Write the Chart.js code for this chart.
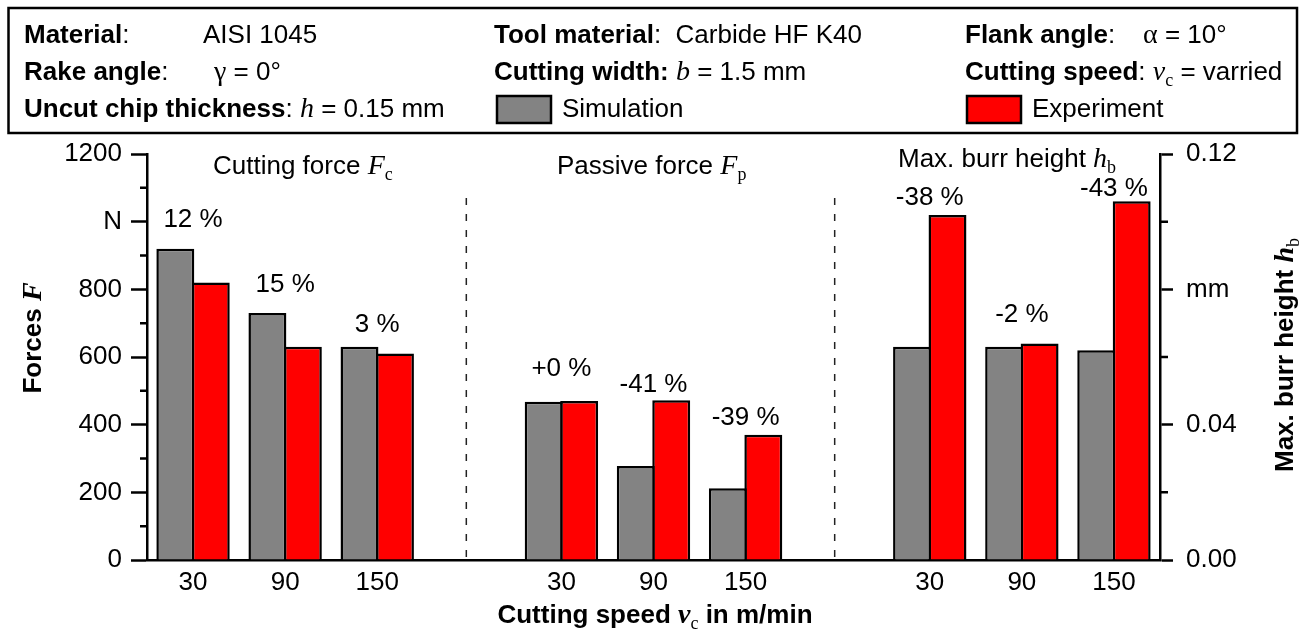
<!DOCTYPE html>
<html>
<head>
<meta charset="utf-8">
<script src="https://cdn.jsdelivr.net/npm/chart.js@4.4.1/dist/chart.umd.min.js"></script>
<style>
  html, body { margin: 0; padding: 0; background: #fff; }
  #wrap { width: 1304px; height: 634px; position: relative; }
</style>
</head>
<body>
<div id="wrap"><canvas id="c"></canvas></div>
<script>
// Cutting speed slots: three groups (Fc, Fp, hb) separated by an empty slot
const speeds = ['30', '90', '150', '', '30', '90', '150', '', '30', '90', '150'];

// Forces in N (left axis)
const simForce = [920, 730, 630, null, 468, 278, 212, null, null, null, null];
const expForce = [820, 630, 610, null, 470, 472, 370, null, null, null, null];

// Max. burr height in mm (right axis)
const simBurr = [null, null, null, null, null, null, null, null, 0.063, 0.063, 0.062];
const expBurr = [null, null, null, null, null, null, null, null, 0.102, 0.064, 0.106];

// Deviation simulation vs. experiment
const deviation = ['12 %', '15 %', '3 %', '', '+0 %', '-41 %', '-39 %', '', '-38 %', '-2 %', '-43 %'];

// Major tick labels
const forceTickLabels = ['0', '200', '400', '600', '800', 'N', '1200'];
const burrTickLabels = ['0.00', '0.04', 'mm', '0.12'];

const SANS = '"Liberation Sans", Arial, sans-serif';
const SERIF = '"Liberation Serif", "Times New Roman", serif';
const R = s => `${s}px ${SANS}`;
const B = s => `bold ${s}px ${SANS}`;
const I = s => `italic ${s}px ${SERIF}`;
const BI = s => `bold italic ${s}px ${SERIF}`;
const S = s => `${s}px ${SERIF}`;

// draw a sequence of [text, font, dy] runs on one baseline
function rich(ctx, x, y, runs, align) {
  let w = 0;
  for (const r of runs) { ctx.font = r[1]; w += ctx.measureText(r[0]).width; }
  let cx = align === 'center' ? x - w / 2 : (align === 'right' ? x - w : x);
  ctx.textAlign = 'left';
  ctx.textBaseline = 'alphabetic';
  for (const r of runs) {
    ctx.font = r[1];
    ctx.fillText(r[0], cx, y + (r[2] || 0));
    cx += ctx.measureText(r[0]).width;
  }
}

const decorations = {
  id: 'decorations',
  afterDraw(chart) {
    const ctx = chart.ctx;
    const xs = chart.scales.x, ys = chart.scales.y, y2 = chart.scales.y2;
    const area = chart.chartArea;
    ctx.save();
    ctx.fillStyle = '#000';
    ctx.strokeStyle = '#000';

    // minor ticks
    ctx.lineWidth = 2.5;
    ctx.beginPath();
    for (let v = 100; v < 1200; v += 200) {
      const p = ys.getPixelForValue(v);
      ctx.moveTo(area.left - 7, p); ctx.lineTo(area.left, p);
    }
    for (let k = 1; k < 6; k += 2) {
      const p = y2.getPixelForValue(k * 0.02);
      ctx.moveTo(area.right, p); ctx.lineTo(area.right + 8, p);
    }
    ctx.stroke();

    // dashed separators between the three panels
    ctx.lineWidth = 1.5;
    ctx.setLineDash([7, 9]);
    ctx.strokeStyle = '#222';
    ctx.beginPath();
    [3, 7].forEach(i => {
      const px = xs.getPixelForValue(i) - 3;
      ctx.moveTo(px, 198); ctx.lineTo(px, area.bottom);
    });
    ctx.stroke();
    ctx.setLineDash([]);
    ctx.strokeStyle = '#000';

    // deviation labels above each pair of bars
    const lift = [22, 21, 15, 0, 25, 8, 10, 0, 10, 21, 5];
    deviation.forEach((txt, i) => {
      if (!txt) return;
      let top = Infinity;
      chart.data.datasets.forEach((ds, d) => {
        const el = chart.getDatasetMeta(d).data[i];
        if (ds.data[i] != null && el) top = Math.min(top, el.y);
      });
      rich(ctx, xs.getPixelForValue(i), top - lift[i], [[txt, R(26)]], 'center');
    });

    // panel titles
    rich(ctx, 213, 174, [['Cutting force ', R(26)], ['F', I(28)], ['c', S(18), 6]], 'left');
    rich(ctx, 557, 174, [['Passive force ', R(26)], ['F', I(28)], ['p', S(18), 6]], 'left');
    rich(ctx, 898, 167, [['Max. burr height ', R(26)], ['h', I(28)], ['b', S(18), 6]], 'left');

    // axis titles
    rich(ctx, 655, 623, [['Cutting speed ', B(26)], ['v', BI(28)], ['c', S(18), 6], [' in m/min', B(26)]], 'center');
    ctx.save();
    ctx.translate(32, 338);
    ctx.rotate(-Math.PI / 2);
    rich(ctx, 0, 9, [['Forces ', B(26)], ['F', BI(28)]], 'center');
    ctx.restore();
    ctx.save();
    ctx.translate(1284, 355);
    ctx.rotate(-Math.PI / 2);
    rich(ctx, 0, 9, [['Max. burr height ', B(26)], ['h', BI(28)], ['b', S(18), 6]], 'center');
    ctx.restore();

    // header box with process parameters and legend
    ctx.lineWidth = 2.5;
    ctx.strokeRect(8.5, 8, 1288.5, 125);
    const fs = 26;
    rich(ctx, 24, 43, [['Material', B(fs)], [':', R(fs)]]);
    rich(ctx, 203, 43, [['AISI 1045', R(fs)]]);
    rich(ctx, 494, 43, [['Tool material', B(fs)], [':  Carbide HF K40', R(fs)]]);
    rich(ctx, 965, 43, [['Flank angle', B(fs)], [':', R(fs)]]);
    rich(ctx, 1143, 43, [['\u03b1', S(28)], [' = 10\u00b0', R(fs)]]);

    rich(ctx, 24, 80, [['Rake angle', B(fs)], [':', R(fs)]]);
    rich(ctx, 214, 80, [['\u03b3', S(28)], [' = 0\u00b0', R(fs)]]);
    rich(ctx, 494, 80, [['Cutting width:', B(fs)], [' ', R(fs)], ['b', I(28)], [' = 1.5 mm', R(fs)]]);
    rich(ctx, 965, 80, [['Cutting speed', B(fs)], [': ', R(fs)], ['v', I(28)], ['c', S(18), 6], [' = varried', R(fs)]]);

    rich(ctx, 24, 117, [['Uncut chip thickness', B(fs)], [': ', R(fs)], ['h', I(28)], [' = 0.15 mm', R(fs)]]);
    const legendItems = [[497, chart.data.datasets[0]], [967, chart.data.datasets[1]]];
    legendItems.forEach(([lx, ds]) => {
      ctx.fillStyle = ds.backgroundColor;
      ctx.fillRect(lx, 96, 54, 27);
      ctx.lineWidth = 2.5;
      ctx.strokeRect(lx, 96, 54, 27);
      ctx.fillStyle = '#000';
      rich(ctx, lx + 65, 117, [[ds.label, R(fs)]]);
    });
    ctx.restore();
  }
};

const GRAY = '#838383', RED = '#ff0000';
const barStyle = { borderColor: '#000', borderWidth: 2.5, skipNull: true,
                   categoryPercentage: 0.77, barPercentage: 1.07 };

new Chart(document.getElementById('c'), {
  type: 'bar',
  data: {
    labels: speeds,
    datasets: [
      { label: 'Simulation', data: simForce, yAxisID: 'y', backgroundColor: GRAY, ...barStyle },
      { label: 'Experiment', data: expForce, yAxisID: 'y', backgroundColor: RED, ...barStyle },
      { label: 'Simulation', data: simBurr, yAxisID: 'y2', backgroundColor: GRAY, ...barStyle },
      { label: 'Experiment', data: expBurr, yAxisID: 'y2', backgroundColor: RED, ...barStyle }
    ]
  },
  options: {
    responsive: true,
    maintainAspectRatio: false,
    animation: false,
    layout: { padding: { top: 154, left: 0, right: 0, bottom: 0 } },
    plugins: { legend: { display: false }, tooltip: { enabled: false } },
    scales: {
      x: {
        grid: { display: true, drawOnChartArea: false, drawTicks: false },
        border: { color: '#000', width: 2.5 },
        ticks: { color: '#000', font: { family: SANS, size: 26 }, padding: 7, autoSkip: false, maxRotation: 0 },
        afterFit: s => { s.height = 74; }
      },
      y: {
        position: 'left', min: 0, max: 1200,
        grid: { drawOnChartArea: false, tickLength: 16, tickWidth: 2.5,
                tickColor: c => (c.tick && c.tick.value % 200 === 0) ? '#000' : 'rgba(0,0,0,0)' },
        border: { color: '#000', width: 2.5 },
        ticks: { stepSize: 100, autoSkip: false, color: '#000', padding: 9,
                 font: { family: SANS, size: 26 },
                 callback: v => v % 200 === 0 ? forceTickLabels[v / 200] : '' },
        afterFit: s => { s.width = 147; }
      },
      y2: {
        position: 'right', min: 0, max: 0.12,
        grid: { drawOnChartArea: false, tickLength: 13, tickWidth: 2.5,
                tickColor: c => (c.tick && Math.round(c.tick.value / 0.02) % 2 === 0) ? '#000' : 'rgba(0,0,0,0)' },
        border: { color: '#000', width: 2.5 },
        ticks: { stepSize: 0.02, autoSkip: false, color: '#000', padding: 13,
                 font: { family: SANS, size: 26 },
                 callback: v => { const k = Math.round(v / 0.02); return k % 2 === 0 ? burrTickLabels[k / 2] : ''; } },
        afterFit: s => { s.width = 144; }
      }
    }
  },
  plugins: [decorations]
});
</script>
</body>
</html>
